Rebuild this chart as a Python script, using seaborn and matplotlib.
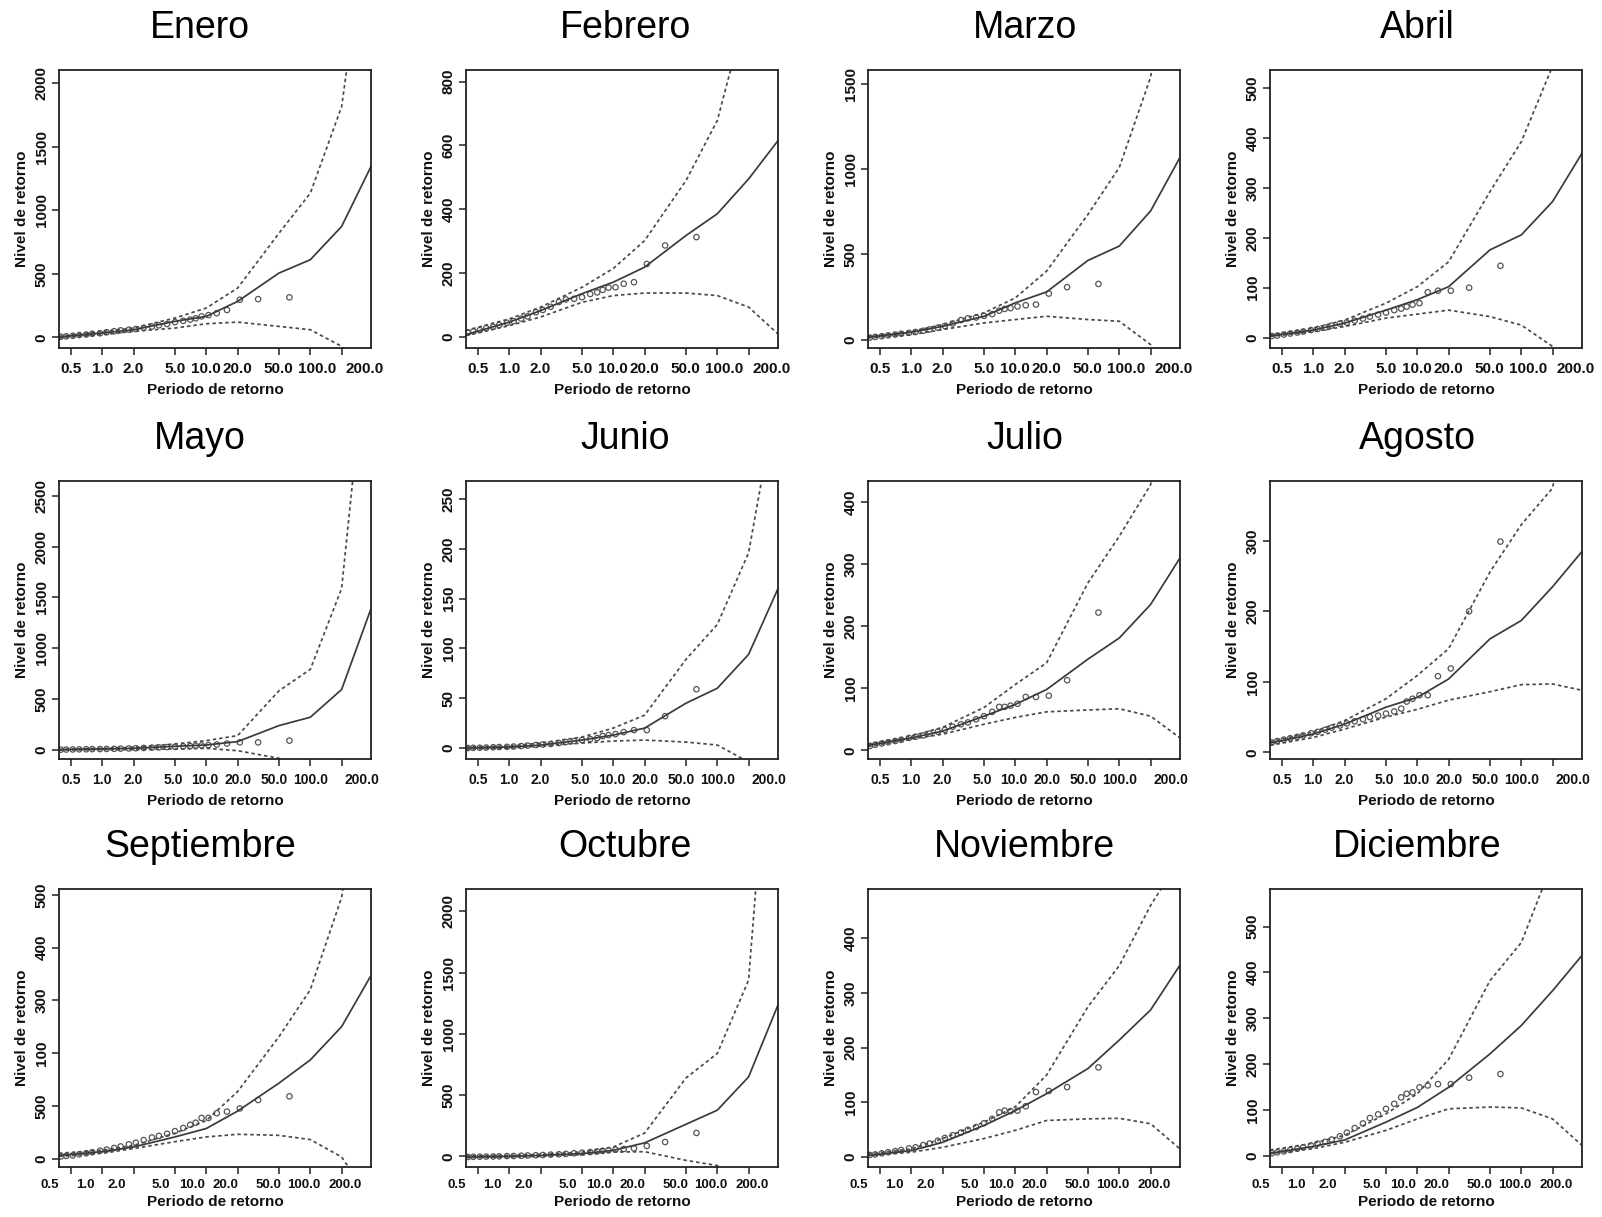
import numpy as np
import pandas as pd
import matplotlib
matplotlib.use("Agg")
import matplotlib.pyplot as plt
import matplotlib.transforms as mtransforms
from matplotlib.ticker import NullLocator, FixedLocator, NullFormatter
import seaborn as sns

# ---------------- data ----------------
months = ["Enero", "Febrero", "Marzo", "Abril", "Mayo", "Junio",
          "Julio", "Agosto", "Septiembre", "Octubre", "Noviembre", "Diciembre"]

# return periods at which the fitted curve and bounds are drawn
curve_rp = [0.3834, 1, 2, 5, 10, 20, 50, 100, 200, 383.4]
# empirical return periods of the observations
obs_rp = [63, 31.5, 21, 15.8, 12.6, 10.5, 9.0, 7.9, 7.0, 6.0, 5.0, 4.2, 3.5, 3.0,
          2.5, 2.1, 1.8, 1.5, 1.3, 1.1, 0.95, 0.8, 0.7, 0.6, 0.52, 0.45, 0.40]

x_ticks = [0.5, 1, 2, 5, 10, 20, 50, 100, 200]
x_tick_labels = ["0.5", "1.0", "2.0", "5.0", "10.0", "20.0", "50.0", "100.0", "200.0"]

enero_fit = [3, 34, 60, 126, 165, 283, 506, 611, 873, 1345]
enero_upper = [8, 47, 73, 152, 231, 388, 820, 1135, 1816, 3500]
enero_lower = [-5, 21, 47, 73, 107, 120, 86, 60, -71, -400]
enero_obs = [315, 301, 296, 215, 190, 175, 165, 150, 140, 130, 120, 105, 95, 85,
             75, 65, 60, 55, 48, 40, 32, 28, 22, 18, 12, 8, 5]

febrero_fit = [8, 47, 83, 136, 172, 219, 318, 386, 495, 615]
febrero_upper = [21, 57, 94, 156, 215, 302, 490, 678, 1050, 1600]
febrero_lower = [5, 36, 63, 109, 130, 138, 138, 130, 94, 10]
febrero_obs = [313, 287, 229, 172, 167, 156, 155, 148, 140, 135, 125, 120, 118, 110,
               95, 85, 78, 65, 58, 50, 45, 38, 32, 28, 22, 18, 14]

marzo_fit = [14, 43, 78, 137, 216, 280, 465, 549, 755, 1069]
marzo_upper = [20, 49, 88, 157, 245, 402, 735, 1010, 1540, 2600]
marzo_lower = [10, 29, 59, 98, 118, 137, 118, 108, -29, -300]
marzo_obs = [327, 308, 270, 206, 202, 195, 185, 180, 170, 150, 140, 130, 125, 115,
             95, 80, 70, 60, 52, 45, 40, 35, 30, 25, 20, 16, 12]

abril_fit = [3, 15, 29, 55, 76, 102, 176, 206, 273, 370]
abril_upper = [5, 19, 35, 69, 102, 152, 293, 393, 545, 900]
abril_lower = [2, 12, 22, 39, 47, 55, 42, 25, -18, -150]
abril_obs = [144, 100, 94, 94, 91, 69, 66, 62, 58, 55, 50, 46, 42, 38,
             34, 30, 28, 24, 20, 17, 15, 12, 10, 8, 6, 4, 3]

mayo_fit = [0, 7, 13, 33, 46, 79, 237, 319, 592, 1388]
mayo_upper = [3, 13, 23, 56, 89, 138, 580, 790, 1586, 4400]
mayo_lower = [-3, 0, 0, 7, 13, -10, -85, -250, -600, -1200]
mayo_obs = [89, 72, 72, 60, 50, 45, 42, 38, 35, 32, 28, 25, 22, 20,
            17, 14, 12, 10, 8, 7, 6, 5, 4, 3, 2, 1, 0]

junio_fit = [0, 1, 3, 8, 13, 20, 45, 60, 94, 160]
junio_upper = [1, 2, 5, 11, 20, 33, 89, 124, 196, 360]
junio_lower = [-1, 0, 2, 5, 7, 8, 6, 3, -14, -60]
junio_obs = [59, 32, 18, 18, 16, 14, 13, 12, 10, 9, 8, 7, 6, 5,
             4, 3.5, 3, 2.5, 2, 1.5, 1.2, 1, 0.8, 0.5, 0.3, 0.2, 0]

julio_fit = [8, 20, 31, 55, 74, 98, 147, 181, 235, 310]
julio_upper = [10, 23, 37, 69, 106, 141, 270, 345, 428, 700]
julio_lower = [6, 18, 26, 42, 53, 62, 65, 67, 55, 20]
julio_obs = [222, 113, 88, 86, 86, 75, 72, 70, 70, 62, 55, 50, 45, 42,
             38, 33, 30, 27, 24, 22, 20, 17, 15, 13, 11, 9, 7]

agosto_fit = [13, 26, 40, 64, 78, 104, 161, 187, 235, 285]
agosto_upper = [15, 29, 45, 76, 109, 147, 256, 323, 375, 600]
agosto_lower = [10, 21, 33, 50, 61, 74, 86, 96, 97, 88]
agosto_obs = [299, 200, 119, 108, 81, 81, 76, 72, 62, 58, 55, 52, 50, 47,
              44, 41, 38, 35, 32, 29, 27, 24, 22, 20, 18, 16, 14]

septiembre_fit = [6, 13, 22, 41, 57, 90, 143, 187, 250, 347]
septiembre_upper = [10, 16, 25, 48, 72, 127, 231, 320, 495, 900]
septiembre_lower = [4, 10, 19, 32, 41, 46, 44, 36, 3, -80]
septiembre_obs = [118, 111, 95, 89, 86, 77, 77, 68, 64, 58, 52, 47, 43, 40,
                  35, 30, 27, 23, 20, 17, 15, 12, 10, 8, 6, 5, 4]

octubre_fit = [-5, 0, 8, 22, 49, 110, 262, 377, 649, 1236]
octubre_upper = [3, 8, 16, 35, 76, 190, 640, 840, 1440, 4500]
octubre_lower = [-11, -5, 0, 14, 35, 38, -33, -75, -250, -600]
octubre_obs = [191, 117, 85, 65, 60, 55, 50, 45, 40, 35, 30, 25, 20, 17,
               14, 11, 9, 7, 5, 3, 2, 0, -1, -2, -3, -4, -5]

noviembre_fit = [3, 12, 27, 58, 85, 116, 162, 214, 269, 351]
noviembre_upper = [6, 15, 34, 64, 92, 150, 275, 350, 460, 545]
noviembre_lower = [3, 9, 18, 34, 49, 67, 70, 71, 61, 15]
noviembre_obs = [164, 128, 121, 119, 93, 85, 84, 85, 82, 70, 62, 55, 50, 45,
                 40, 35, 30, 25, 22, 18, 16, 13, 11, 9, 7, 5, 4]

diciembre_fit = [5, 20, 34, 73, 105, 149, 222, 284, 360, 437]
diciembre_upper = [12, 27, 44, 91, 135, 210, 382, 465, 640, 900]
diciembre_lower = [4, 15, 29, 55, 80, 102, 106, 104, 80, 22]
diciembre_obs = [178, 170, 156, 156, 153, 149, 138, 135, 127, 113, 102, 90, 82, 70,
                 60, 50, 42, 35, 30, 26, 22, 18, 15, 12, 9, 7, 5]

fits = [enero_fit, febrero_fit, marzo_fit, abril_fit, mayo_fit, junio_fit,
        julio_fit, agosto_fit, septiembre_fit, octubre_fit, noviembre_fit, diciembre_fit]
uppers = [enero_upper, febrero_upper, marzo_upper, abril_upper, mayo_upper, junio_upper,
          julio_upper, agosto_upper, septiembre_upper, octubre_upper, noviembre_upper, diciembre_upper]
lowers = [enero_lower, febrero_lower, marzo_lower, abril_lower, mayo_lower, junio_lower,
          julio_lower, agosto_lower, septiembre_lower, octubre_lower, noviembre_lower, diciembre_lower]
observed = [enero_obs, febrero_obs, marzo_obs, abril_obs, mayo_obs, junio_obs,
            julio_obs, agosto_obs, septiembre_obs, octubre_obs, noviembre_obs, diciembre_obs]

y_limits = [(-84, 2105), (-34, 836), (-49, 1582), (-21, 537),
            (-92, 2645), (-11, 268), (-14, 434), (-9.5, 385),
            (-16, 511), (-87, 2183), (-18, 490), (-25, 582)]
y_ticks = [[0, 500, 1000, 1500, 2000], [0, 200, 400, 600, 800], [0, 500, 1000, 1500],
           [0, 100, 200, 300, 400, 500], [0, 500, 1000, 1500, 2000, 2500],
           [0, 50, 100, 150, 200, 250], [0, 100, 200, 300, 400], [0, 100, 200, 300],
           [0, 100, 200, 300, 400, 500], [0, 500, 1000, 1500, 2000],
           [0, 100, 200, 300, 400], [0, 100, 200, 300, 400, 500]]
y_tick_labels = [None] * 12
y_tick_labels[8] = ["0", "500", "100", "300", "400", "500"]

# ---------------- style ----------------
sns.set_theme(style="ticks")
plt.rcParams["font.family"] = ["Liberation Sans", "DejaVu Sans"]

W, H = 1602, 1217
fig = plt.figure(figsize=(W / 100, H / 100), dpi=100)
fig.patch.set_facecolor("white")

col_left = [59, 466, 868, 1270]
row_top = [70, 481, 889]
ax_w, ax_h = 312, 278
title_x = [0.452, 0.51, 0.503, 0.471]
label_dx = [[0, 0, 0, 0, 0, 0, -1, 7, 23],
            [0, 0, 0, -2, -2, 0, -5, 0, 20],
            [-21, -17, -17, -14, -14, -12, -11, -7, 4]]
xtick_size = [11, 10, 9.5]
xtick_drop = [14, 14, 12]
xlabel_y = [-0.126, -0.126, -0.101]
line_col = "#3a3a3a"
dash_col = "#4a4a4a"

for i, month in enumerate(months):
    r, c = divmod(i, 4)
    ax = fig.add_axes([col_left[c] / W, 1 - (row_top[r] + ax_h) / H, ax_w / W, ax_h / H])
    ax.set_xscale("log")

    dfc = pd.DataFrame({"rp": curve_rp, "fit": fits[i], "upper": uppers[i], "lower": lowers[i]})
    dfo = pd.DataFrame({"rp": obs_rp, "nivel": observed[i]})

    sns.lineplot(data=dfc, x="rp", y="upper", ax=ax, color=dash_col, lw=1.25,
                 linestyle=(0, (2.0, 1.7)), estimator=None, sort=False)
    sns.lineplot(data=dfc, x="rp", y="lower", ax=ax, color=dash_col, lw=1.25,
                 linestyle=(0, (2.0, 1.7)), estimator=None, sort=False)
    sns.lineplot(data=dfc, x="rp", y="fit", ax=ax, color=line_col, lw=1.25,
                 estimator=None, sort=False)
    sns.scatterplot(data=dfo, x="rp", y="nivel", ax=ax, marker="o", s=15,
                    facecolors="none", edgecolor="#555555", linewidth=0.9)

    ax.set_xlim(0.3834, 383.4)
    ax.set_ylim(*y_limits[i])

    # x axis: ticks at log positions, labels placed as in the original
    ax.xaxis.set_major_locator(FixedLocator(x_ticks))
    ax.xaxis.set_major_formatter(NullFormatter())
    ax.xaxis.set_minor_locator(NullLocator())
    for xv, txt, dx in zip(x_ticks, x_tick_labels, label_dx[r]):
        tr = mtransforms.blended_transform_factory(ax.transData, ax.transAxes) + \
            mtransforms.ScaledTranslation(dx / 100, -xtick_drop[r] / 100, fig.dpi_scale_trans)
        ax.text(xv, 0, txt, transform=tr, ha="center", va="top", fontsize=xtick_size[r],
                fontweight="bold", color="#111111", clip_on=False)

    ax.set_yticks(y_ticks[i])
    if y_tick_labels[i] is not None:
        ax.set_yticklabels(y_tick_labels[i])
    ax.tick_params(axis="both", direction="out", length=5, width=1.1, color="#222222")
    ax.tick_params(axis="y", labelrotation=90, pad=2.5, labelsize=11)
    for lab in ax.get_yticklabels():
        lab.set_fontweight("bold")
        lab.set_va("center")
        lab.set_color("#111111")

    ax.set_xlabel("Periodo de retorno", fontsize=11, fontweight="bold", color="#111111")
    ax.set_ylabel("Nivel de retorno", fontsize=11, fontweight="bold", color="#111111")
    ax.xaxis.set_label_coords(0.5, xlabel_y[r])
    ax.yaxis.set_label_coords(-0.097, 0.5)

    for sp in ax.spines.values():
        sp.set_visible(True)
        sp.set_linewidth(1.3)
        sp.set_color("#222222")
    ax.set_facecolor("white")
    ax.set_title(month, fontsize=27, pad=23, x=title_x[c], color="black")

fig.savefig("out.png", dpi=100, facecolor="white")
